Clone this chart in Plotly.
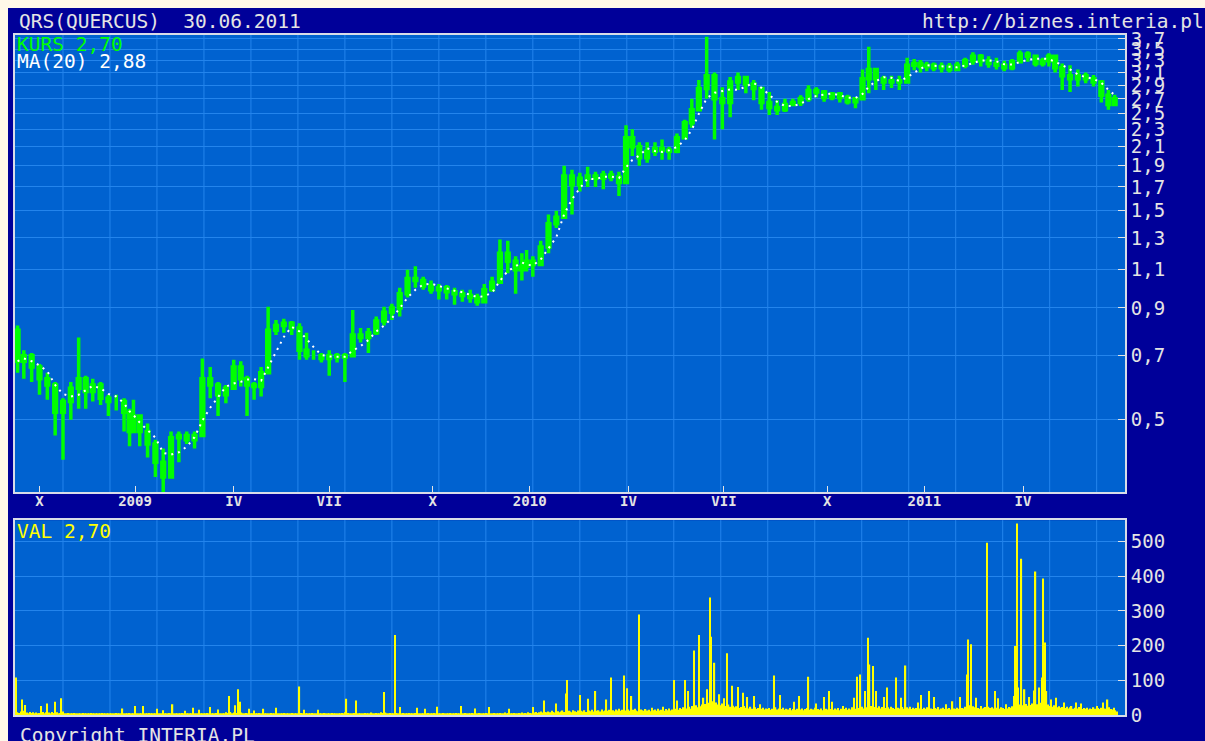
import numpy as np
import pandas as pd
import plotly.graph_objects as go

# ---------------- calendar (Warsaw Stock Exchange sessions) ----------------
start_date = "2008-09-10"
end_date = "2011-06-30"
holidays = ["2008-11-11", "2008-12-24", "2008-12-25", "2008-12-26", "2008-12-31",
            "2009-01-01", "2009-04-10", "2009-04-13", "2009-05-01", "2009-06-11",
            "2009-11-11", "2009-12-24", "2009-12-25", "2009-12-31",
            "2010-01-01", "2010-04-02", "2010-04-05", "2010-05-03", "2010-06-03",
            "2010-11-01", "2010-11-11", "2010-12-24", "2010-12-31",
            "2011-01-06", "2011-04-22", "2011-04-25", "2011-05-03", "2011-06-23"]

quarter_dates = ["2008-10-01", "2009-01-01", "2009-04-01", "2009-07-01", "2009-10-01",
                 "2010-01-01", "2010-04-01", "2010-07-01", "2010-10-01", "2011-01-01",
                 "2011-04-01"]
quarter_labels = ["X", "2009", "IV", "VII", "X", "2010", "IV", "VII", "X", "2011", "IV"]

price_ticks = [0.5, 0.7, 0.9, 1.1, 1.3, 1.5, 1.7, 1.9, 2.1, 2.3, 2.5, 2.7, 2.9, 3.1, 3.3, 3.5, 3.7]
price_tick_text = ["0,5", "0,7", "0,9", "1,1", "1,3", "1,5", "1,7", "1,9", "2,1", "2,3",
                   "2,5", "2,7", "2,9", "3,1", "3,3", "3,5", "3,7"]
vol_ticks = [0, 100, 200, 300, 400, 500]
vol_tick_text = ["0", "100", "200", "300", "400", "500"]

# ---------------- weekly price bars (QRS) ----------------
week_open = [0.80, 0.68, 0.70, 0.66, 0.62, 0.60, 0.52, 0.55, 0.59, 0.62,
             0.58, 0.60, 0.56, 0.55, 0.55, 0.52, 0.47, 0.51, 0.47, 0.44,
             0.40, 0.37, 0.455, 0.46, 0.45, 0.46, 0.62, 0.60, 0.57, 0.59,
             0.66, 0.62, 0.60, 0.595, 0.64, 0.80, 0.82, 0.83, 0.81, 0.72,
             0.70, 0.70, 0.69, 0.70, 0.695, 0.70, 0.78, 0.77, 0.79, 0.84,
             0.88, 0.90, 0.97, 1.05, 1.04, 1.01, 0.99, 1.00, 0.98, 0.97,
             0.96, 0.95, 0.93, 0.99, 1.03, 1.20, 1.15, 1.10, 1.12, 1.15,
             1.13, 1.24, 1.40, 1.45, 1.80, 1.72, 1.78, 1.80, 1.78, 1.81,
             1.79, 1.74, 2.20, 2.10, 1.98, 2.05, 2.08, 2.06, 2.05, 2.20,
             2.38, 2.55, 2.85, 3.05, 2.70, 2.65, 2.95, 3.02, 2.92, 2.85,
             2.65, 2.58, 2.55, 2.62, 2.65, 2.70, 2.82, 2.80, 2.72, 2.77,
             2.72, 2.66, 2.70, 3.00, 3.15, 3.00, 2.95, 2.97, 2.95, 3.22,
             3.25, 3.20, 3.22, 3.18, 3.20, 3.15, 3.22, 3.30, 3.38, 3.30,
             3.25, 3.22, 3.18, 3.28, 3.42, 3.38, 3.25, 3.30, 3.38, 3.18,
             3.05, 3.00, 3.05, 3.00, 2.95, 2.75, 2.62]
week_high = [0.82, 0.72, 0.71, 0.67, 0.64, 0.61, 0.56, 0.61, 0.77, 0.63,
             0.62, 0.61, 0.57, 0.57, 0.56, 0.53, 0.555, 0.51, 0.49, 0.45,
             0.43, 0.47, 0.47, 0.47, 0.47, 0.69, 0.66, 0.61, 0.60, 0.685,
             0.68, 0.63, 0.61, 0.66, 0.905, 0.845, 0.85, 0.84, 0.83, 0.79,
             0.72, 0.71, 0.72, 0.71, 0.71, 0.89, 0.81, 0.81, 0.86, 0.905,
             0.92, 1.00, 1.10, 1.12, 1.06, 1.04, 1.02, 1.015, 1.00, 0.99,
             0.99, 0.97, 1.02, 1.06, 1.29, 1.28, 1.18, 1.20, 1.22, 1.18,
             1.28, 1.47, 1.50, 1.90, 1.86, 1.83, 1.89, 1.84, 1.85, 1.85,
             1.84, 2.35, 2.30, 2.15, 2.15, 2.15, 2.18, 2.10, 2.25, 2.42,
             2.70, 2.98, 3.74, 3.10, 2.87, 3.03, 3.10, 3.05, 2.98, 2.87,
             2.80, 2.68, 2.70, 2.70, 2.75, 2.90, 2.87, 2.83, 2.80, 2.80,
             2.76, 2.72, 3.15, 3.55, 3.15, 3.05, 3.05, 3.05, 3.35, 3.33,
             3.31, 3.28, 3.27, 3.27, 3.26, 3.28, 3.35, 3.45, 3.42, 3.38,
             3.35, 3.30, 3.33, 3.48, 3.47, 3.40, 3.35, 3.43, 3.40, 3.25,
             3.22, 3.15, 3.10, 3.06, 2.98, 2.83, 2.76]
week_low = [0.64, 0.62, 0.61, 0.57, 0.555, 0.46, 0.405, 0.50, 0.53, 0.53,
            0.55, 0.54, 0.51, 0.525, 0.47, 0.435, 0.47, 0.435, 0.41, 0.37,
            0.342, 0.37, 0.40, 0.44, 0.43, 0.46, 0.56, 0.51, 0.545, 0.59,
            0.595, 0.51, 0.555, 0.565, 0.64, 0.78, 0.79, 0.78, 0.685, 0.685,
            0.685, 0.675, 0.63, 0.675, 0.61, 0.70, 0.75, 0.71, 0.78, 0.82,
            0.845, 0.86, 0.95, 1.00, 0.99, 0.97, 0.94, 0.94, 0.915, 0.93,
            0.925, 0.91, 0.93, 0.98, 1.02, 1.08, 0.97, 1.04, 1.09, 1.06,
            1.12, 1.20, 1.37, 1.45, 1.47, 1.66, 1.70, 1.70, 1.68, 1.75,
            1.62, 1.74, 2.00, 1.90, 1.93, 2.00, 1.96, 1.96, 2.03, 2.20,
            2.32, 2.55, 2.70, 2.18, 2.30, 2.45, 2.83, 2.78, 2.68, 2.55,
            2.48, 2.48, 2.52, 2.60, 2.60, 2.66, 2.72, 2.66, 2.68, 2.65,
            2.62, 2.57, 2.68, 2.78, 2.83, 2.83, 2.86, 2.83, 2.95, 3.14,
            3.10, 3.12, 3.12, 3.10, 3.10, 3.12, 3.17, 3.23, 3.20, 3.18,
            3.15, 3.12, 3.14, 3.25, 3.28, 3.20, 3.20, 3.20, 3.10, 2.83,
            2.80, 2.88, 2.93, 2.88, 2.65, 2.55, 2.60]
week_close = [0.68, 0.70, 0.66, 0.62, 0.60, 0.52, 0.55, 0.59, 0.62, 0.58,
              0.60, 0.56, 0.55, 0.55, 0.52, 0.47, 0.51, 0.47, 0.44, 0.40,
              0.37, 0.455, 0.46, 0.45, 0.46, 0.62, 0.60, 0.57, 0.59, 0.66,
              0.62, 0.60, 0.595, 0.64, 0.80, 0.82, 0.83, 0.81, 0.72, 0.70,
              0.70, 0.69, 0.70, 0.695, 0.70, 0.78, 0.77, 0.79, 0.84, 0.88,
              0.90, 0.97, 1.05, 1.04, 1.01, 0.99, 1.00, 0.98, 0.97, 0.96,
              0.95, 0.93, 0.99, 1.03, 1.20, 1.15, 1.10, 1.12, 1.15, 1.13,
              1.24, 1.40, 1.45, 1.80, 1.72, 1.78, 1.80, 1.78, 1.81, 1.79,
              1.74, 2.20, 2.10, 1.98, 2.05, 2.08, 2.06, 2.05, 2.20, 2.38,
              2.55, 2.85, 3.05, 2.70, 2.65, 2.95, 3.02, 2.92, 2.85, 2.65,
              2.58, 2.55, 2.62, 2.65, 2.70, 2.82, 2.80, 2.72, 2.77, 2.72,
              2.66, 2.70, 3.00, 3.15, 3.00, 2.95, 2.97, 2.95, 3.22, 3.25,
              3.20, 3.22, 3.18, 3.20, 3.15, 3.22, 3.30, 3.38, 3.30, 3.25,
              3.22, 3.18, 3.28, 3.42, 3.38, 3.25, 3.30, 3.38, 3.18, 3.05,
              3.00, 3.05, 3.00, 2.95, 2.75, 2.62, 2.70]

# ---------------- daily turnover (VAL), one value per session ----------------
volume = [
    108, 8, 6, 10, 45, 12, 29, 7, 5, 9, 6, 8, 4, 7, 5, 6, 26, 9, 5, 8,
    33, 7, 5, 9, 6, 38, 8, 5, 6, 48, 10, 5, 4, 6, 3, 5, 4, 6, 3, 4,
    5, 3, 4, 6, 3, 5, 4, 3, 6, 4, 5, 3, 4, 5, 3, 6, 4, 3, 5, 4,
    3, 4, 5, 3, 6, 4, 3, 5, 19, 4, 3, 5, 6, 4, 3, 5, 26, 4, 3, 5,
    4, 26, 5, 3, 4, 6, 3, 5, 4, 3, 18, 5, 4, 3, 14, 5, 3, 4, 6, 3,
    31, 5, 4, 3, 5, 4, 6, 3, 12, 4, 5, 3, 4, 21, 5, 3, 4, 15, 3, 5,
    4, 3, 6, 4, 23, 5, 3, 4, 6, 16, 4, 3, 5, 4, 8, 6, 55, 9, 5, 7,
    28, 6, 74, 38, 7, 5, 4, 6, 3, 18, 5, 4, 13, 5, 3, 6, 4, 5, 18, 4,
    3, 5, 4, 6, 3, 5, 21, 4, 3, 5, 4, 6, 3, 5, 4, 3, 6, 4, 5, 3,
    4, 82, 6, 5, 15, 4, 3, 5, 4, 6, 3, 5, 4, 15, 3, 5, 4, 6, 3, 5,
    4, 3, 6, 5, 4, 3, 5, 4, 6, 5, 8, 47, 6, 4, 5, 3, 6, 42, 5, 4,
    3, 5, 4, 6, 3, 5, 4, 7, 5, 4, 6, 3, 5, 8, 6, 66, 7, 5, 4, 6,
    5, 4, 231, 6, 5, 23, 4, 6, 3, 5, 4, 6, 5, 3, 4, 6, 21, 5, 4, 3,
    5, 18, 4, 6, 3, 5, 4, 6, 5, 24, 4, 3, 5, 6, 4, 5, 3, 6, 4, 5,
    4, 6, 3, 5, 26, 4, 5, 6, 3, 4, 5, 6, 4, 19, 5, 3, 6, 4, 5, 4,
    6, 4, 23, 5, 3, 6, 4, 5, 3, 6, 4, 5, 7, 4, 6, 18, 5, 4, 6, 5,
    4, 6, 5, 7, 4, 6, 5, 8, 6, 5, 23, 7, 9, 6, 8, 10, 7, 42, 9, 8,
    10, 8, 12, 9, 7, 33, 11, 8, 10, 13, 9, 62, 101, 12, 10, 8, 14, 11, 9, 13,
    58, 12, 10, 14, 9, 47, 13, 11, 15, 10, 69, 12, 14, 10, 16, 11, 13, 45, 12, 15,
    108, 14, 11, 16, 13, 18, 12, 15, 114, 13, 77, 16, 12, 55, 15, 18, 13, 11, 290, 16,
    14, 12, 17, 13, 15, 11, 21, 14, 16, 12, 18, 13, 15, 24, 12, 17, 14, 19, 13, 16,
    101, 18, 42, 15, 20, 17, 22, 101, 19, 69, 24, 18, 26, 186, 28, 22, 231, 25, 30, 50,
    32, 74, 35, 339, 226, 40, 151, 36, 30, 60, 28, 33, 48, 26, 178, 30, 24, 84, 27, 22,
    25, 81, 20, 23, 64, 26, 21, 52, 19, 24, 18, 55, 22, 17, 20, 31, 18, 21, 16, 19,
    17, 20, 15, 18, 114, 22, 16, 19, 58, 17, 21, 15, 18, 16, 20, 14, 17, 38, 15, 18,
    55, 16, 19, 14, 17, 20, 110, 15, 18, 16, 21, 33, 17, 15, 19, 14, 52, 18, 16, 69,
    17, 38, 15, 19, 16, 20, 14, 18, 26, 17, 21, 15, 19, 16, 22, 50, 18, 110, 20, 117,
    24, 19, 69, 22, 223, 146, 26, 141, 23, 69, 21, 25, 19, 23, 52, 20, 79, 22, 18, 24,
    20, 17, 108, 21, 19, 50, 23, 18, 143, 22, 19, 24, 17, 21, 18, 20, 36, 19, 58, 17,
    21, 18, 22, 69, 19, 17, 52, 20, 18, 23, 16, 19, 21, 17, 31, 18, 20, 16, 40, 19,
    17, 21, 18, 52, 20, 19, 24, 117, 218, 28, 204, 25, 22, 50, 20, 18, 26, 19, 21, 23,
    497, 24, 20, 22, 19, 69, 21, 48, 18, 22, 20, 17, 31, 19, 23, 21, 25, 55, 199, 552,
    79, 30, 451, 28, 74, 32, 27, 52, 29, 33, 71, 414, 31, 79, 35, 108, 394, 209, 69, 30,
    26, 45, 24, 28, 50, 22, 25, 21, 23, 36, 20, 24, 19, 22, 26, 18, 21, 36, 19, 23,
    33, 17, 20, 18, 21, 16, 19, 17, 22, 18, 26, 20, 17, 21, 36, 19, 18, 45, 22, 17,
    16, 21, 14, 10,
]

# ---------------- derived positions ----------------
sessions = pd.bdate_range(start_date, end_date, freq="C", holidays=holidays)
session_idx = np.arange(len(sessions))
week_keys = np.asarray(sessions.to_period("W").astype(str))
week_x = pd.Series(session_idx).groupby(week_keys, sort=False).mean().values

n_w = min(len(week_x), len(week_open), len(week_high), len(week_low), len(week_close))
wx = week_x[:n_w]
ma20 = pd.Series(week_close[:n_w]).rolling(4, min_periods=1).mean().values

q_idx = [int(sessions.searchsorted(pd.Timestamp(d))) for d in quarter_dates]

vol_x = np.arange(len(volume))

# ---------------- styling ----------------
NAVY = "#000099"
PAGE = "#FFF8E8"
PLOT_BG = "#0062D0"
GRID = "#2384EC"
BORDER = "#D8DCE8"
TXT = "#E4E4E4"
GREEN = "#00FF00"
YELLOW = "#FFFF00"
MONO = "DejaVu Sans Mono"

W, H = 1205, 741
OFF = 8  # page inset of the figure: screen px = figure px + 8
# plot area in screen pixels
PL, PR, PT, PB = 12.7, 1125, 35, 715.5
TOP_BOTTOM_PX = 492.5
VOL_TOP_PX = 520.5


def fx(p):
    return (p - PL) / (PR - PL)


def fy(p):
    return (PB - p) / (PB - PT)


x_range = [-0.64, 708.1]
grid_every = 30

fig = go.Figure()

fig.add_trace(go.Candlestick(
    x=wx, open=week_open[:n_w], high=week_high[:n_w], low=week_low[:n_w], close=week_close[:n_w],
    increasing=dict(line=dict(color=GREEN, width=3.5), fillcolor=GREEN),
    decreasing=dict(line=dict(color=GREEN, width=3.5), fillcolor=GREEN),
    whiskerwidth=0, xaxis="x", yaxis="y", hoverinfo="skip",
))
fig.add_trace(go.Scatter(
    x=wx, y=ma20, mode="lines", line=dict(color="#FFFFFF", width=2, dash="2px,5px"),
    xaxis="x", yaxis="y", hoverinfo="skip",
))
fig.add_trace(go.Bar(
    x=vol_x, y=volume, width=0.8, marker=dict(color=YELLOW, line=dict(width=0)),
    xaxis="x2", yaxis="y2", hoverinfo="skip",
))

shapes = []
for g in range(grid_every, int(x_range[1]) + 1, grid_every):
    for xr_, yr_ in (("x", "y domain"), ("x2", "y2 domain")):
        shapes.append(dict(type="line", xref=xr_, yref=yr_, x0=g, x1=g, y0=0, y1=1,
                           layer="below", line=dict(color=GRID, width=1)))

top_dom = [fy(TOP_BOTTOM_PX), 1.0]
vol_dom = [0.0, fy(VOL_TOP_PX)]

v_lo = 0.5 * np.exp((420 - TOP_BOTTOM_PX) / 190.4)
v_hi = 0.5 * np.exp((420 - PT) / 190.4)

axis_common = dict(showline=True, linecolor=BORDER, linewidth=2, mirror=True, zeroline=False)

fig.update_layout(
    width=W, height=H, autosize=False,
    margin=dict(l=PL - OFF, r=W - (PR - OFF), t=PT - OFF, b=H - (PB - OFF), pad=0),
    paper_bgcolor=NAVY, plot_bgcolor=PLOT_BG,
    showlegend=False, boxgap=0.0,
    xaxis=dict(domain=[0, 1], anchor="y", range=x_range, tickmode="array",
               tickvals=q_idx, ticktext=quarter_labels, ticks="inside", ticklen=6,
               tickcolor=TXT, tickwidth=1, showgrid=False, ticklabelstandoff=-5,
               tickfont=dict(family=MONO, size=14, color=TXT, weight="bold"),
               rangeslider=dict(visible=False), **axis_common),
    yaxis=dict(domain=top_dom, anchor="x", type="log",
               range=[np.log10(v_lo), np.log10(v_hi)], side="right",
               tickmode="array", tickvals=price_ticks, ticktext=price_tick_text,
               ticks="inside", ticklen=7, tickcolor=TXT, showgrid=True, gridcolor=GRID,
               gridwidth=1, tickfont=dict(family=MONO, size=19, color=TXT), **axis_common),
    xaxis2=dict(domain=[0, 1], anchor="y2", range=x_range, showticklabels=False,
                ticks="", showgrid=False, **axis_common),
    yaxis2=dict(domain=vol_dom, anchor="x2", range=[0, 562], side="right",
                tickmode="array", tickvals=vol_ticks, ticktext=vol_tick_text,
                ticks="inside", ticklen=7, tickcolor=TXT, showgrid=True, gridcolor=GRID,
                gridwidth=1, tickfont=dict(family=MONO, size=19, color=TXT), **axis_common),
    shapes=shapes,
)


def label(text, px, py, color, size=19.5):
    fig.add_annotation(text=text, x=fx(px), y=fy(py), xref="paper", yref="paper",
                       xanchor="left", yanchor="middle", showarrow=False,
                       font=dict(family=MONO, size=size, color=color))


label("QRS(QUERCUS)  30.06.2011", 15, 21, TXT)
label("http://biznes.interia.pl", 920, 21, TXT)
label("KURS 2,70", 13, 45, GREEN)
label("MA(20) 2,88", 13, 62, "#FFFFFF")
label("VAL 2,70", 13, 532, YELLOW)
label("Copyright INTERIA.PL", 16, 736, TXT)

# page: navy everywhere, with the cream strip along the top and the left edge
page_js = ("var de=document.documentElement, bd=document.body;"
           "de.style.backgroundColor='" + NAVY + "';"
           "bd.style.backgroundColor='" + NAVY + "';"
           "de.style.overflow='hidden'; bd.style.overflow='hidden';"
           "bd.style.margin='0'; bd.style.padding='0';"
           "bd.style.borderTop='" + str(OFF) + "px solid " + PAGE + "';"
           "bd.style.borderLeft='" + str(OFF) + "px solid " + PAGE + "';")
fig.write_html("out.html", post_script=page_js)
